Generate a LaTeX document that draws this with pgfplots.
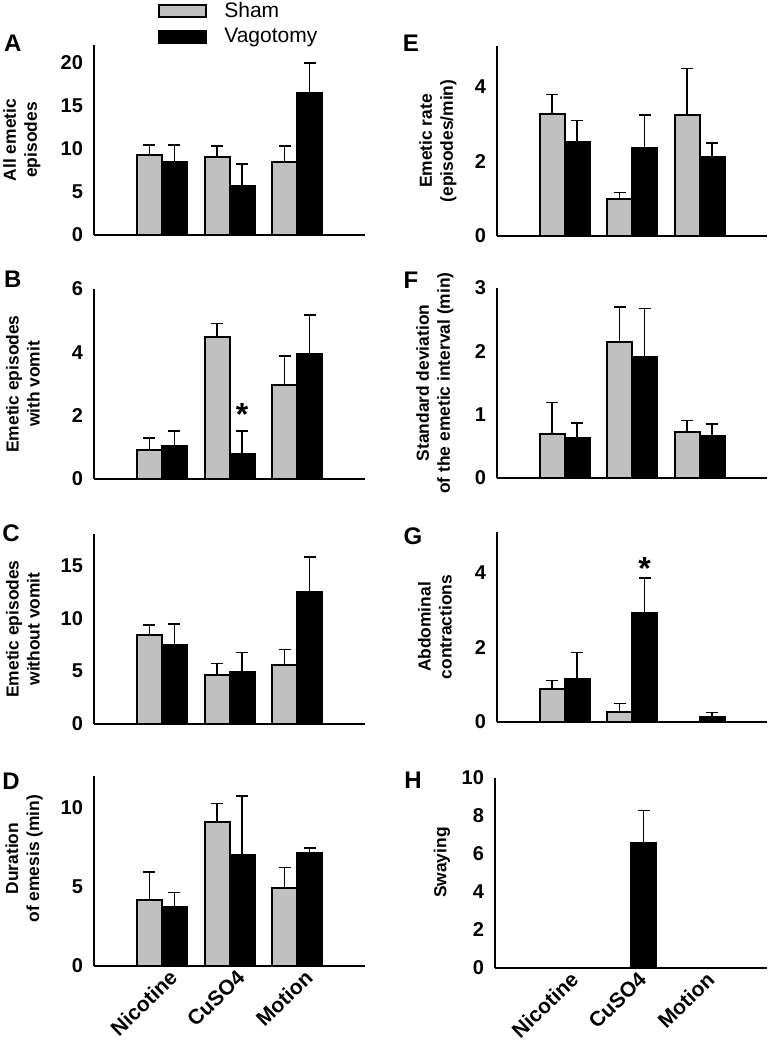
\documentclass[border=0pt]{standalone}
\usepackage{pgfplots}
\pgfplotsset{compat=1.18}
\usepackage{fontspec}
\setmainfont{Liberation Sans}
\definecolor{shamgray}{RGB}{192,192,192}

\tikzset{
  letter/.style={font=\fontsize{12}{14}\selectfont\bfseries, inner sep=0pt, anchor=center},
  star/.style={font=\fontsize{16}{18}\selectfont\bfseries, inner sep=0pt, anchor=base, yshift=-9pt},
}
\pgfplotsset{
  panel/.style={
    scale only axis, width=135.5pt, height=95pt,
    anchor=south west,
    xmin=0, xmax=4, ymin=0,
    axis x line*=bottom, axis y line*=left,
    axis line style={line width=1pt},
    ybar=0pt, bar width=12.5pt,
    xtick={1,2,3}, xticklabels={},
    major tick length=0pt,
    clip=false,
    /pgf/number format/assume math mode=true,
    yticklabel style={font=\fontsize{10}{12}\selectfont\bfseries, xshift=-2pt},
    every axis y label/.style={rotate=90, anchor=center,
      font=\fontsize{8.7}{10.5}\selectfont\bfseries, align=center},
    error bars/y dir=plus, error bars/y explicit,
    error bars/error bar style={line width=0.7pt, black},
    error bars/error mark options={rotate=90, line width=0.7pt, mark size=3pt, black},
  },
  sham/.style={fill=shamgray, draw=black, line width=1pt},
  vago/.style={fill=black, draw=black, line width=1pt},
  catlabels/.style={xticklabels={Nicotine,CuSO4,Motion},
    xticklabel style={rotate=44, anchor=north east, inner sep=0pt, xshift=1.5pt, yshift=-3pt,
      font=\fontsize{10.5}{12}\selectfont\bfseries}},
}

\begin{document}
\begin{tikzpicture}
\useasboundingbox (0,0) rectangle (385pt,521pt);

% A
\begin{axis}[panel, at={(47pt,403.5pt)}, ymax=22, ytick={0,5,10,15,20},
  ylabel={All emetic\\episodes}, ylabel style={at={(axis description cs:-0.266,0.5)}},
  legend style={at={(axis description cs:0.236,1.248)}, anchor=north west, draw=none, fill=none,
    inner sep=0pt, font=\fontsize{10.5}{12}\selectfont, column sep=6.5pt, row sep=0pt},
  legend cell align=left,
  legend image code/.code={\draw[#1] (0pt,-3pt) rectangle (23.5pt,3pt);}]
\addplot[sham] coordinates {(1,9.3) +- (0,1.1) (2,9.0) +- (0,1.3) (3,8.45) +- (0,1.85)};
\addplot[vago] coordinates {(1,8.45) +- (0,1.95) (2,5.7) +- (0,2.5) (3,16.4) +- (0,3.5)};
\addlegendentry{Sham}
\addlegendentry{Vagotomy}
\node[letter] at (axis description cs:-0.30,1.01) {A};
\end{axis}

% B
\begin{axis}[panel, at={(47pt,281.5pt)}, ymax=6, ytick={0,2,4,6},
  ylabel={Emetic episodes\\with vomit}, ylabel style={at={(axis description cs:-0.262,0.5)}}]
\addplot[sham] coordinates {(1,0.91) +- (0,0.39) (2,4.47) +- (0,0.44) (3,2.97) +- (0,0.91)};
\addplot[vago] coordinates {(1,1.04) +- (0,0.48) (2,0.78) +- (0,0.74) (3,3.95) +- (0,1.23)};
\node[letter] at (axis description cs:-0.30,1.05) {B};
\node[star] at (axis cs:2.185,2.25) {*};
\end{axis}

% C
\begin{axis}[panel, at={(47pt,159pt)}, ymax=18, ytick={0,5,10,15},
  ylabel={Emetic episodes\\without vomit}, ylabel style={at={(axis description cs:-0.262,0.5)}}]
\addplot[sham] coordinates {(1,8.44) +- (0,0.95) (2,4.62) +- (0,1.11) (3,5.57) +- (0,1.50)};
\addplot[vago] coordinates {(1,7.48) +- (0,2.01) (2,4.94) +- (0,1.84) (3,12.48) +- (0,3.35)};
\node[letter] at (axis description cs:-0.306,1.005) {C};
\end{axis}

% D
\begin{axis}[panel, catlabels, at={(47pt,38pt)}, ymax=12, ytick={0,5,10},
  ylabel={Duration\\of emesis (min)}, ylabel style={at={(axis description cs:-0.258,0.565)}}]
\addplot[sham] coordinates {(1,4.19) +- (0,1.74) (2,9.12) +- (0,1.13) (3,4.93) +- (0,1.28)};
\addplot[vago] coordinates {(1,3.75) +- (0,0.90) (2,7.0) +- (0,3.73) (3,7.11) +- (0,0.35)};
\node[letter] at (axis description cs:-0.306,0.97) {D};
\end{axis}

% E
\begin{axis}[panel, at={(248.5pt,403pt)}, width=135pt, ymax=5.1, ytick={0,2,4},
  ylabel={Emetic rate\\(episodes/min)}, ylabel style={at={(axis description cs:-0.219,0.5)}}]
\addplot[sham] coordinates {(1,3.27) +- (0,0.53) (2,0.99) +- (0,0.17) (3,3.25) +- (0,1.25)};
\addplot[vago] coordinates {(1,2.52) +- (0,0.58) (2,2.37) +- (0,0.88) (3,2.12) +- (0,0.38)};
\node[letter] at (axis description cs:-0.319,1.015) {E};
\end{axis}

% F
\begin{axis}[panel, at={(248.5pt,282pt)}, width=135pt, ymax=3, ytick={0,1,2,3},
  ylabel={Standard deviation\\of the emetic interval (min)}, ylabel style={at={(axis description cs:-0.230,0.5)}}]
\addplot[sham] coordinates {(1,0.69) +- (0,0.50) (2,2.14) +- (0,0.56) (3,0.73) +- (0,0.18)};
\addplot[vago] coordinates {(1,0.63) +- (0,0.24) (2,1.91) +- (0,0.77) (3,0.67) +- (0,0.18)};
\node[letter] at (axis description cs:-0.319,1.04) {F};
\end{axis}

% G
\begin{axis}[panel, at={(248.5pt,160pt)}, width=135pt, ymax=5.1, ytick={0,2,4},
  ylabel={Abdominal\\contractions}, ylabel style={at={(axis description cs:-0.230,0.5)}}]
\addplot[sham] coordinates {(1,0.89) +- (0,0.22) (2,0.26) +- (0,0.24)};
\addplot[vago] coordinates {(1,1.15) +- (0,0.71) (2,2.93) +- (0,0.93) (3,0.13) +- (0,0.13)};
\node[letter] at (axis description cs:-0.311,0.976) {G};
\node[star] at (axis cs:2.185,4.3) {*};
\end{axis}

% H
\begin{axis}[panel, catlabels, at={(247.5pt,37pt)}, width=136pt, ymax=10, ytick={0,2,4,6,8,10},
  ylabel={Swaying}, ylabel style={at={(axis description cs:-0.195,0.555)}}]
\addplot[sham] coordinates {(1,0) (2,0) (3,0)};
\addplot[vago] coordinates {(2,6.58) +- (0,1.70)};
\node[letter] at (axis description cs:-0.301,0.99) {H};
\end{axis}
\end{tikzpicture}
\end{document}
